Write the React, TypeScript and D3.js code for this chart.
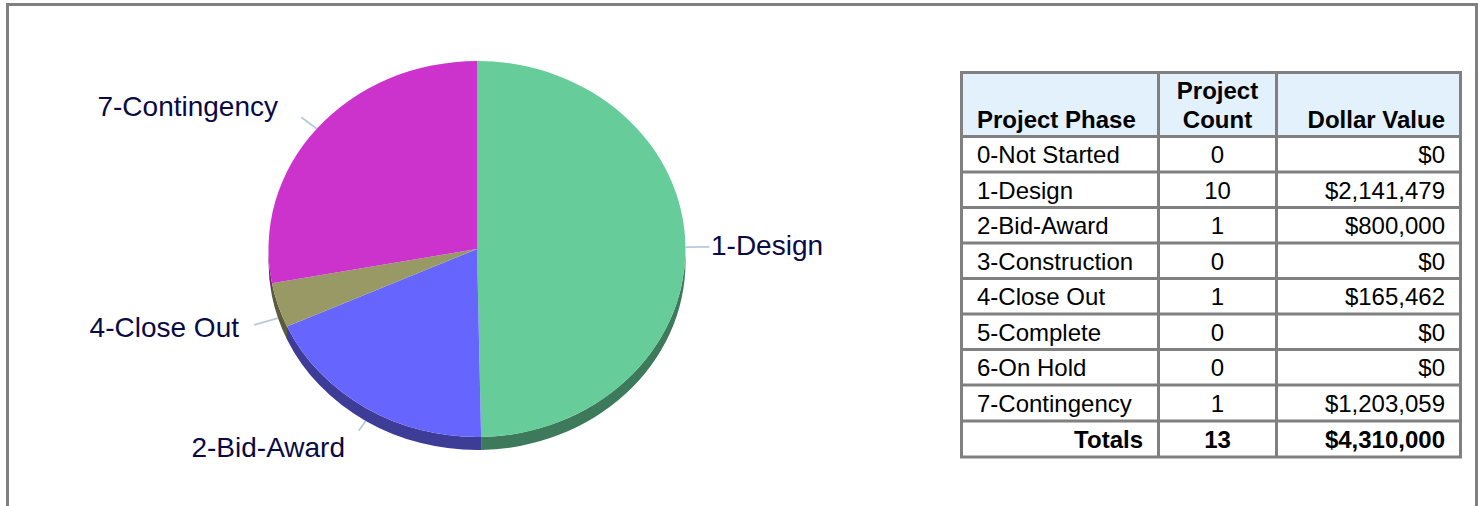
import React from 'react';
import * as d3 from 'd3';

// table data
const phases = ['0-Not Started', '1-Design', '2-Bid-Award', '3-Construction', '4-Close Out', '5-Complete', '6-On Hold', '7-Contingency'];
const counts = [0, 10, 1, 0, 1, 0, 0, 1];
const dollars = [0, 2141479, 800000, 0, 165462, 0, 0, 1203059];
const totalLabel = 'Totals';
const totalCount = 13;
const totalDollars = 4310000;

// pie slices, clockwise from 12 o'clock
const sliceNames = ['1-Design', '2-Bid-Award', '4-Close Out', '7-Contingency'];
const sliceColors = ['#66CC99', '#6666FF', '#999966', '#CC33CC'];

const WIDTH = 1483;
const HEIGHT = 506;
const GREY = '#808080';
const cx = 477;
const cy = 249;
const rx = 208.5;
const ry = 188;
const depth = 13;

// where each label sits and how long its leader runs
const labelLayout: Record<string, { x: number; y: number; anchor: string; leader: number }> = {
  '1-Design': { x: 711, y: 255, anchor: 'start', leader: 24 },
  '2-Bid-Award': { x: 345, y: 457, anchor: 'end', leader: 13 },
  '4-Close Out': { x: 239, y: 337, anchor: 'end', leader: 25 },
  '7-Contingency': { x: 278, y: 116, anchor: 'end', leader: 20 },
};

const dollarFmt = d3.format('$,.0f');

const onRim = (a: number, dy = 0): [number, number] => [cx + rx * Math.sin(a), cy - ry * Math.cos(a) + dy];

// side wall of the tilted pie, only the part facing the viewer
const wallPath = (a0: number, a1: number) => {
  const s = Math.max(a0, Math.PI / 2);
  const e = Math.min(a1, (3 * Math.PI) / 2);
  if (e <= s) return null;
  const [x0, y0] = onRim(s);
  const [x1, y1] = onRim(e);
  return `M${x0},${y0}A${rx},${ry} 0 0 1 ${x1},${y1}L${x1},${y1 + depth}A${rx},${ry} 0 0 0 ${x0},${y0 + depth}Z`;
};

export default function App() {
  const values = sliceNames.map(n => dollars[phases.indexOf(n)]);
  const slices = d3.pie<number>().sort(null)(values);
  const arc = d3.arc<d3.PieArcDatum<number>>().innerRadius(0).outerRadius(rx);

  // table grid
  const colEdges = [961.5, 1158.5, 1276.5, 1460.5];
  const rowEdges = [72.5, 136.5, 172, 207.5, 243, 278.5, 314, 349.5, 385, 421, 457];
  const textY = (i: number) => rowEdges[i + 1] + 27;

  return (
    <svg
      width={WIDTH}
      height={HEIGHT}
      style={{ position: 'absolute', left: 0, top: 0, background: '#fff', fontFamily: '"Liberation Sans", Arial, sans-serif' }}
    >
      <path d={`M7.5,${HEIGHT}V4.5H1476.5V${HEIGHT}`} fill="none" stroke={GREY} strokeWidth={3} />

      {/* pie */}
      {slices.map((s, i) => {
        const d = wallPath(s.startAngle, s.endAngle);
        if (!d) return null;
        return <path key={i} d={d} fill={d3.rgb(sliceColors[i]).darker(1.45).formatHex()} />;
      })}
      <g transform={`translate(${cx},${cy}) scale(1,${ry / rx})`}>
        {slices.map((s, i) => (
          <path key={i} d={arc(s) ?? ''} fill={sliceColors[i]} />
        ))}
      </g>

      {/* leaders and labels */}
      {slices.map((s, i) => {
        const name = sliceNames[i];
        const l = labelLayout[name];
        const mid = (s.startAngle + s.endAngle) / 2;
        const [x0, y0] = onRim(mid, Math.cos(mid) < 0 ? depth : 0);
        const x1 = x0 + l.leader * Math.sin(mid);
        const y1 = y0 - l.leader * Math.cos(mid) * 0.9;
        return (
          <g key={name}>
            <line x1={x0} y1={y0} x2={x1} y2={y1} stroke="#B9C9DD" strokeWidth={1.8} />
            <text x={l.x} y={l.y} textAnchor={l.anchor} fontSize={28} fill="#0A0A45">{name}</text>
          </g>
        );
      })}

      {/* table */}
      <rect x={colEdges[0]} y={rowEdges[0]} width={colEdges[3] - colEdges[0]} height={rowEdges[1] - rowEdges[0]} fill="#E3F1FC" />
      {rowEdges.map((y, i) => (
        <line key={i} x1={colEdges[0] - 1.5} x2={colEdges[3] + 1.5} y1={y} y2={y} stroke={GREY} strokeWidth={3} />
      ))}
      {colEdges.map((x, i) => (
        <line key={i} x1={x} x2={x} y1={rowEdges[0]} y2={rowEdges[rowEdges.length - 1]} stroke={GREY} strokeWidth={3} />
      ))}

      <g fontSize={24} fontWeight="bold" fill="#000">
        <text x={977} y={128}>Project Phase</text>
        <text x={1217.5} y={99} textAnchor="middle">Project</text>
        <text x={1217.5} y={128} textAnchor="middle">Count</text>
        <text x={1445} y={128} textAnchor="end">Dollar Value</text>
      </g>
      <g fontSize={24} fill="#000">
        {phases.map((p, i) => (
          <g key={p}>
            <text x={977} y={textY(i) - 0.5}>{p}</text>
            <text x={1217.5} y={textY(i) - 0.5} textAnchor="middle">{counts[i]}</text>
            <text x={1445} y={textY(i) - 0.5} textAnchor="end">{dollarFmt(dollars[i])}</text>
          </g>
        ))}
      </g>
      <g fontSize={24} fontWeight="bold" fill="#000">
        <text x={1143} y={textY(8)} textAnchor="end">{totalLabel}</text>
        <text x={1217.5} y={textY(8)} textAnchor="middle">{totalCount}</text>
        <text x={1445} y={textY(8)} textAnchor="end">{dollarFmt(totalDollars)}</text>
      </g>
    </svg>
  );
}
